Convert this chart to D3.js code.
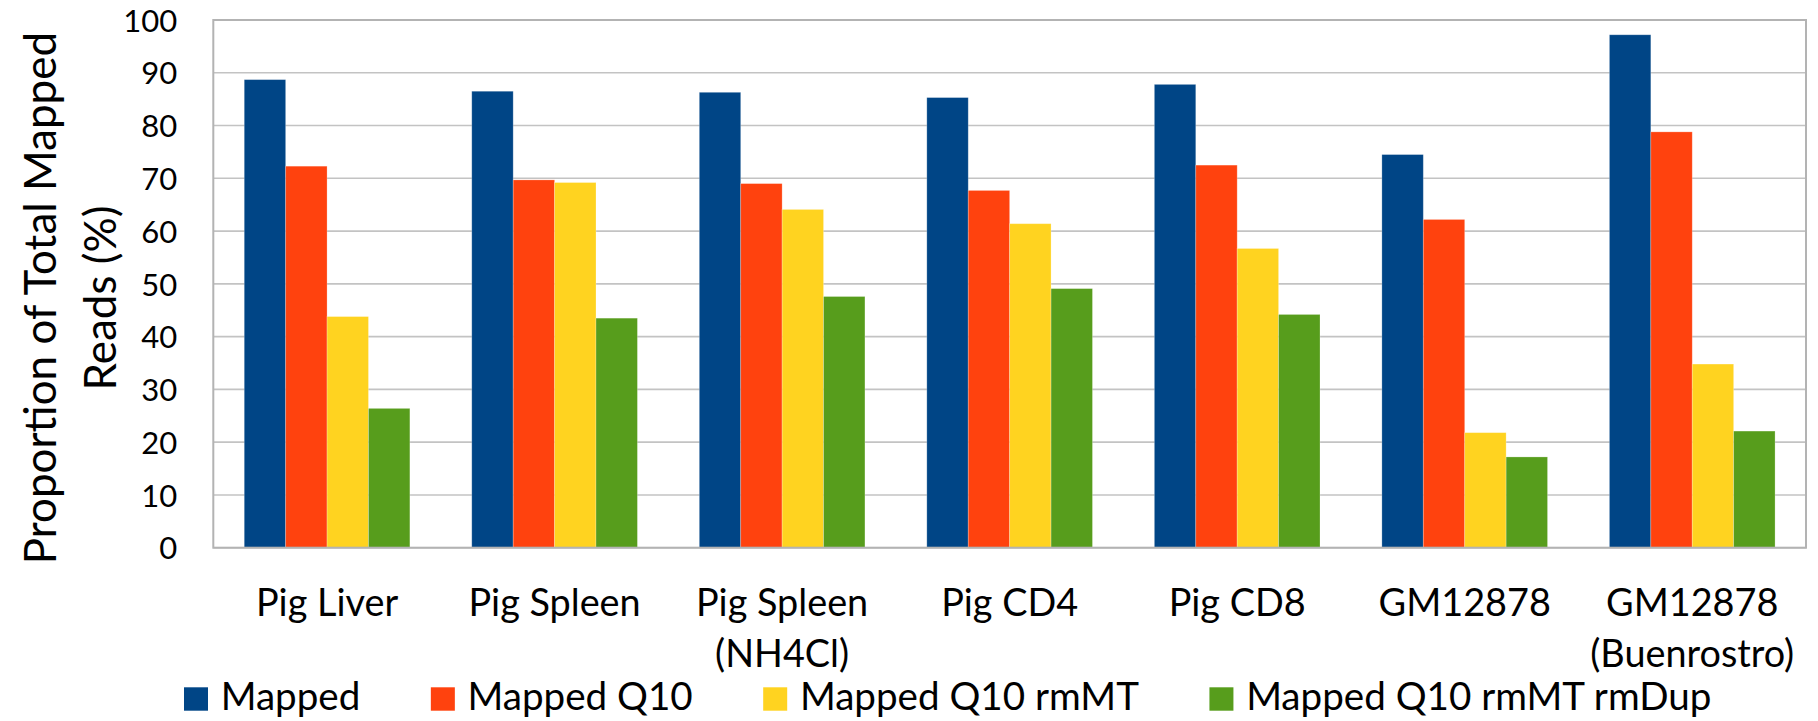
<!DOCTYPE html>
<html>
<head>
<meta charset="utf-8">
<script src="https://cdn.jsdelivr.net/npm/d3@7"></script>
<style>
  html, body { margin: 0; padding: 0; background: #ffffff; }
  svg { display: block; }
  text { font-family: Lato, "Open Sans", sans-serif; fill: #000; }
</style>
</head>
<body>
<svg id="chart" width="1818" height="721"></svg>
<script>
// Sample groups (a "\n" splits a label over two lines)
const categories = [
  "Pig Liver",
  "Pig Spleen",
  "Pig Spleen\n(NH4Cl)",
  "Pig CD4",
  "Pig CD8",
  "GM12878",
  "GM12878\n(Buenrostro)"
];

// Read filtering stages
const seriesNames = ["Mapped", "Mapped Q10", "Mapped Q10 rmMT", "Mapped Q10 rmMT rmDup"];
const seriesColors = ["#004586", "#ff420e", "#ffd320", "#579d1c"];

// Proportion of total mapped reads (%) per group
const mapped             = [88.7, 86.5, 86.3, 85.3, 87.8, 74.5, 97.2];
const mappedQ10          = [72.3, 69.7, 69.0, 67.7, 72.5, 62.2, 78.8];
const mappedQ10rmMT      = [43.8, 69.2, 64.1, 61.4, 56.7, 21.8, 34.8];
const mappedQ10rmMTrmDup = [26.4, 43.5, 47.6, 49.1, 44.2, 17.2, 22.1];

const yTicks = [0, 10, 20, 30, 40, 50, 60, 70, 80, 90, 100];
const yTitleLines = ["Proportion of Total Mapped", "Reads (%)"];

const seriesValues = [mapped, mappedQ10, mappedQ10rmMT, mappedQ10rmMTrmDup];
const rows = categories.map((c, i) => ({
  category: c,
  values: seriesNames.map((s, j) => ({ series: s, value: seriesValues[j][i] }))
}));

const svg = d3.select("#chart");
const plot = { left: 213.3, right: 1806, top: 20, bottom: 547.7 };

const x0 = d3.scaleBand()
  .domain(categories)
  .range([plot.left, plot.right])
  .paddingInner(0.272)
  .paddingOuter(0.136);

const x1 = d3.scaleBand()
  .domain(seriesNames)
  .range([0, x0.bandwidth()])
  .padding(0);

const y = d3.scaleLinear().domain([0, 100]).range([plot.bottom, plot.top]);

const color = d3.scaleOrdinal().domain(seriesNames).range(seriesColors);

// Horizontal gridlines
svg.append("g")
  .selectAll("line")
  .data(yTicks)
  .join("line")
  .attr("x1", plot.left).attr("x2", plot.right)
  .attr("y1", d => y(d)).attr("y2", d => y(d))
  .attr("stroke", "#c3c3c3")
  .attr("stroke-width", 1.6);

// Bars
svg.append("g")
  .selectAll("g")
  .data(rows)
  .join("g")
  .attr("transform", d => `translate(${x0(d.category)},0)`)
  .selectAll("rect")
  .data(d => d.values)
  .join("rect")
  .attr("x", d => x1(d.series))
  .attr("y", d => y(d.value))
  .attr("width", x1.bandwidth())
  .attr("height", d => y(0) - y(d.value))
  .attr("fill", d => color(d.series))
  .attr("stroke", "rgba(255,255,255,0.3)")
  .attr("stroke-width", 0.8);

// Plot frame
svg.append("rect")
  .attr("x", plot.left).attr("y", plot.top)
  .attr("width", plot.right - plot.left)
  .attr("height", plot.bottom - plot.top)
  .attr("fill", "none")
  .attr("stroke", "#b3b3b3")
  .attr("stroke-width", 2);

// Y axis tick labels
const yAxis = d3.axisLeft(y).tickValues(yTicks).tickSize(0).tickPadding(36);
const gy = svg.append("g").attr("transform", `translate(${plot.left},0)`).call(yAxis);
gy.select(".domain").remove();
gy.selectAll("text")
  .style("font-family", "Lato, sans-serif")
  .style("font-size", "31px")
  .attr("fill", "#000")
  .attr("dy", "0.36em");

// Category labels
const xLabels = svg.append("g")
  .selectAll("text")
  .data(categories)
  .join("text")
  .attr("x", d => x0(d) + x0.bandwidth() / 2)
  .attr("y", 615.7)
  .attr("text-anchor", "middle")
  .style("font-size", "37.8px");
xLabels.selectAll("tspan")
  .data(d => d.split("\n"))
  .join("tspan")
  .attr("x", function () { return d3.select(this.parentNode).attr("x"); })
  .attr("dy", (d, i) => i === 0 ? 0 : 51)
  .text(d => d);

// Y axis title
const title = svg.append("text")
  .attr("transform", "translate(56,298) rotate(-90)")
  .attr("text-anchor", "middle")
  .style("font-size", "44px");
title.selectAll("tspan")
  .data(yTitleLines)
  .join("tspan")
  .attr("x", 0)
  .attr("y", (d, i) => i * 60)
  .text(d => d);

// Legend
const legend = svg.append("g");
let lx = 184;
seriesNames.forEach(name => {
  legend.append("rect")
    .attr("x", lx).attr("y", 687.3)
    .attr("width", 24).attr("height", 23.4)
    .attr("fill", color(name));
  const t = legend.append("text")
    .attr("x", lx + 36.7)
    .attr("y", 710)
    .style("font-size", "38.6px")
    .text(name);
  lx += 36.7 + t.node().getComputedTextLength() + 70.5;
});
</script>
</body>
</html>
